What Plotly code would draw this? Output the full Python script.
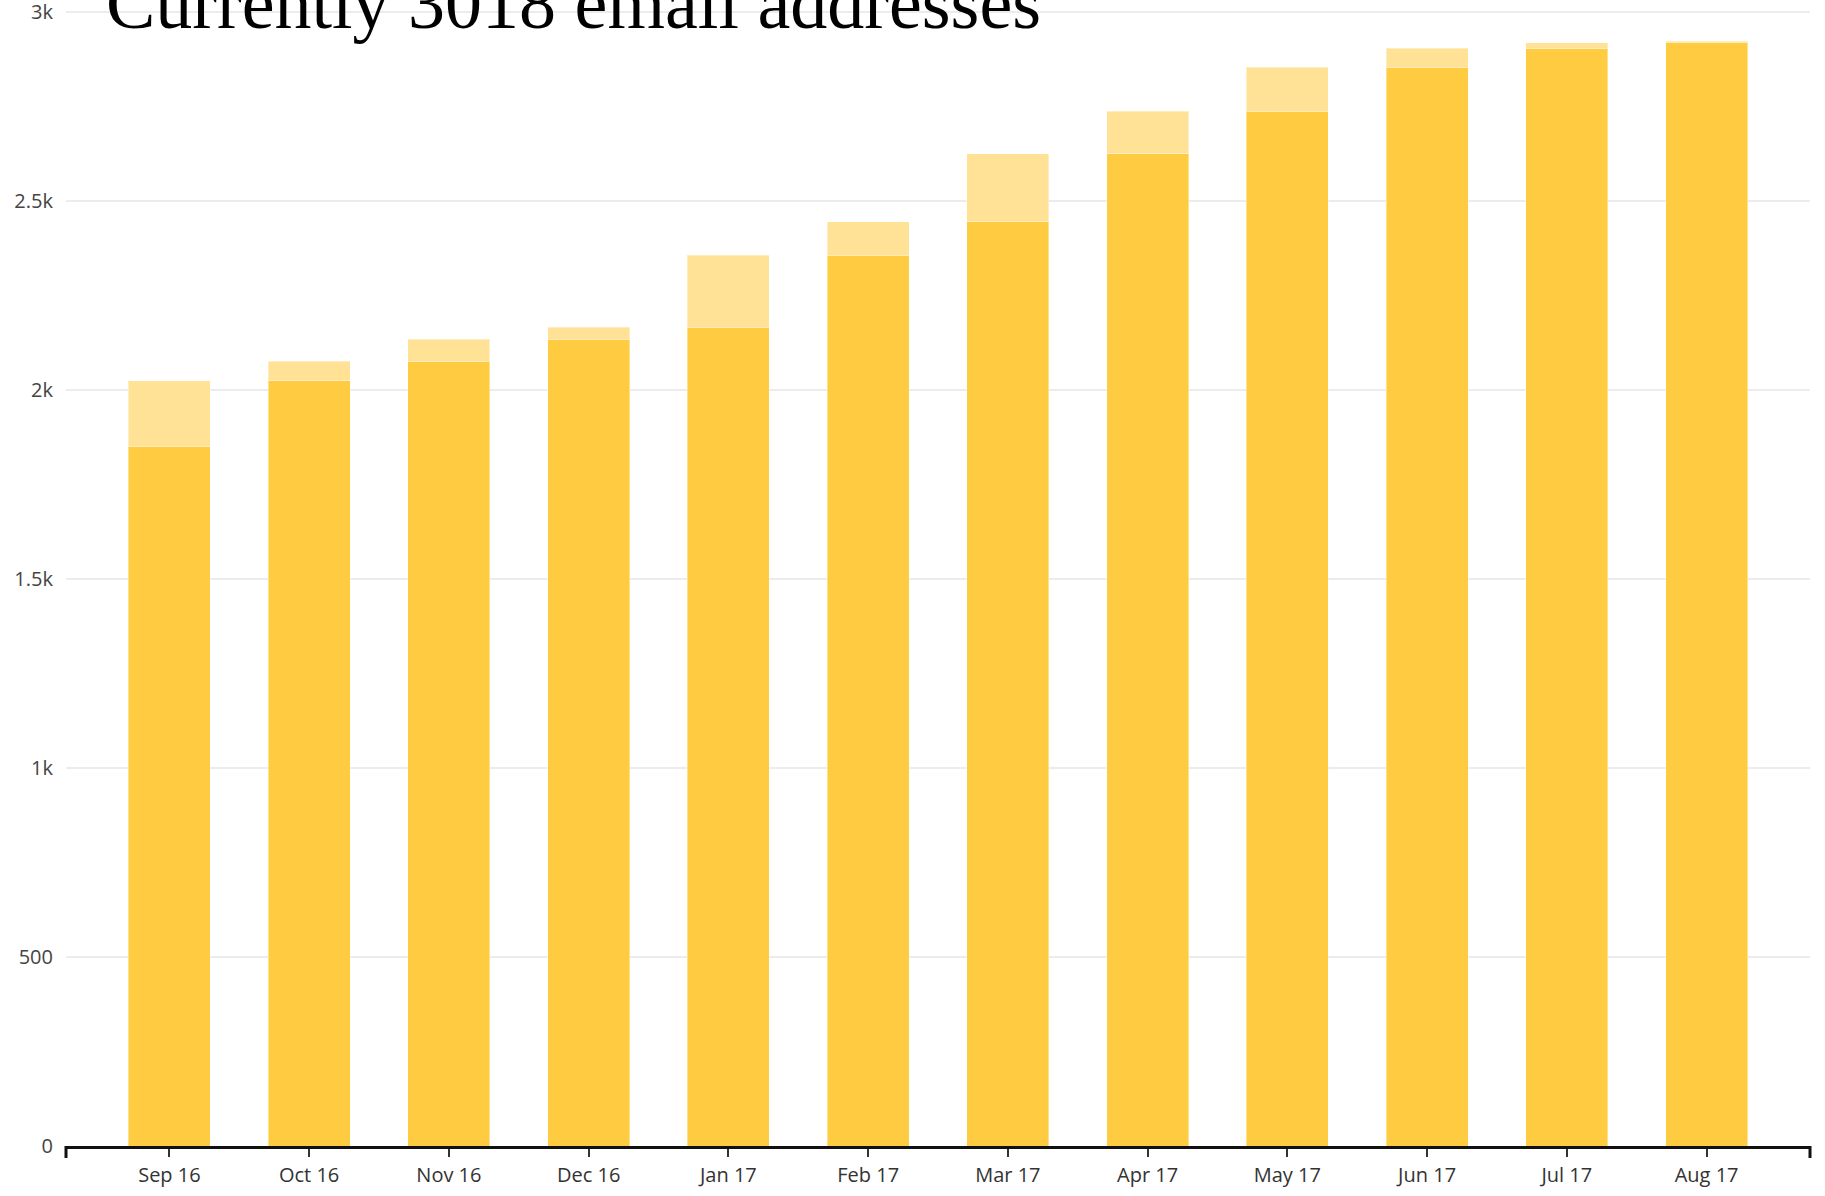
import plotly.graph_objects as go

months = ["Sep 16", "Oct 16", "Nov 16", "Dec 16", "Jan 17", "Feb 17",
          "Mar 17", "Apr 17", "May 17", "Jun 17", "Jul 17", "Aug 17"]
existing = [1852, 2025, 2077, 2135, 2166, 2357, 2446, 2625, 2738, 2855, 2905, 2920]
new_addr = [173, 52, 58, 31, 191, 89, 179, 113, 117, 50, 15, 3]
y_ticks = [0, 500, 1000, 1500, 2000, 2500, 3000]
y_tick_text = ["0", "500", "1k", "1.5k", "2k", "2.5k", "3k"]
title_text = "Currently 3018 email addresses"

DARK = "#FFCB41"
LIGHT = "#FFE295"

fig = go.Figure()
fig.add_trace(go.Bar(x=months, y=existing, marker=dict(color=DARK, line=dict(color="rgba(255,255,255,0.4)", width=1)), name="existing"))
fig.add_trace(go.Bar(x=months, y=new_addr, marker=dict(color=LIGHT, line=dict(color="rgba(255,255,255,0.4)", width=1)), name="new"))

W, H = 1825, 1196
L, R, T, B = 66, 15, 10, 50

fig.update_layout(
    barmode="stack",
    bargap=0.413,
    width=W, height=H,
    margin=dict(l=L, r=R, t=T, b=B, pad=0, autoexpand=False),
    plot_bgcolor="white",
    paper_bgcolor="white",
    showlegend=False,
    xaxis=dict(
        type="category",
        range=[-0.74, 11.74],
        showline=True, linecolor="#111", linewidth=3,
        ticks="outside", ticklen=8, tickwidth=2, tickcolor="#333",
        showgrid=False, ticklabelstandoff=1, automargin=False,
        tickfont=dict(family="Open Sans", size=20, color="#333"),
        fixedrange=True,
    ),
    yaxis=dict(
        range=[0, 3006],
        tickvals=y_ticks, ticktext=y_tick_text,
        showgrid=True, gridcolor="#ececec", gridwidth=1.5,
        zeroline=False, showline=False, automargin=False,
        ticks="", ticklabelstandoff=12, ticklabeloverflow="allow",
        tickfont=dict(family="Open Sans", size=20, color="#444"),
        fixedrange=True,
    ),
    annotations=[dict(
        text=title_text, xref="paper", yref="paper",
        x=(104 - L) / (W - L - R), y=(H - B - 2.5) / (H - T - B),
        xanchor="left", yanchor="middle", showarrow=False,
        font=dict(family="Liberation Serif, Times New Roman, serif", size=74, color="#000"),
    )],
    shapes=[
        dict(type="line", xref="paper", yref="paper", x0=0, x1=0, y0=0, y1=-12 / (H - T - B),
             line=dict(color="#111", width=3)),
        dict(type="line", xref="paper", yref="paper", x0=1, x1=1, y0=0, y1=-12 / (H - T - B),
             line=dict(color="#111", width=3)),
    ],
)

fig.write_html("out.html", config={"displayModeBar": False},
               post_script="document.body.style.margin='0';document.body.style.overflow='hidden';")
